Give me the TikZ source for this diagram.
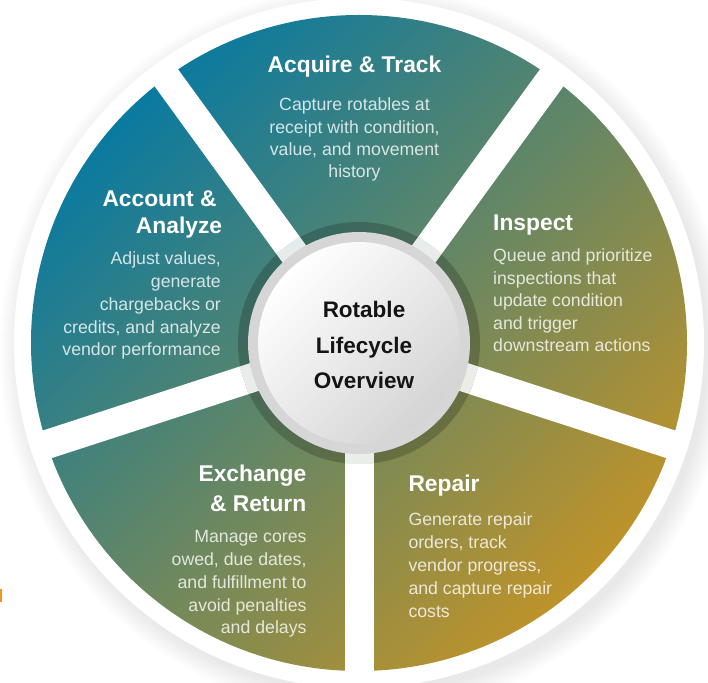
\documentclass[tikz,border=0pt]{standalone}
\usepackage{fontspec}
\setmainfont{Liberation Sans}
\usetikzlibrary{calc}
\definecolor{cteal}{RGB}{10,122,160}
\definecolor{cmid}{RGB}{82,133,112}
\definecolor{cgold}{RGB}{190,147,42}
\definecolor{ringgray}{RGB}{214,214,214}
\definecolor{orangemark}{RGB}{247,148,30}
\newcommand\mylines[6]{%
  \foreach \ln [count=\i from 0] in {#6}
    \node[body, anchor=#2] (#1\i) at (#3, {#4-#5*\i}) {\ln};
}
\begin{document}
\begin{tikzpicture}[x=1pt,y=1pt,
  gapline/.style={line width=29pt, white},
  title/.style={text=white, font=\bfseries\fontsize{22.8}{26}\selectfont, inner sep=0pt},
  body/.style={text=white, text opacity=0.8, font=\fontsize{17.7}{21}\selectfont, inner sep=0pt},
  centertxt/.style={text=black!92, font=\bfseries\fontsize{22.5}{26}\selectfont, inner sep=0pt}]
\useasboundingbox (0,0) rectangle (708,682);
\coordinate (c) at (359,339);
% outer shadow and white ring
\foreach \k in {1,...,22} \fill[black, opacity=0.003] ([shift={(5,-7)}]c) circle ({343+\k});
\fill[white] (c) circle (345);
% coloured wheel
\shade[top color=cteal, middle color=cmid, bottom color=cgold, shading angle=45] (c) circle (328);
% shadow of the centre disc
\fill[black, opacity=0.2] (c) circle (121);
% gaps between sectors
\foreach \a in {54,126,198,270,342} {
  \draw[gapline, opacity=0.88] (c) -- ++(\a:121);
  \draw[gapline] ($(c)+(\a:121)$) -- ++(\a:219);
}
% centre disc
\fill[ringgray] (c) circle (111);
\shade[top color=white, bottom color=black!17, shading angle=45] (c) circle (101);
\node[centertxt, anchor=base] (ct1) at (364,364.7) {Rotable};
\node[centertxt, anchor=base] (ct2) at (364,328.2) {Lifecycle};
\node[centertxt, anchor=base] (ct3) at (364,293.5) {Overview};
% Acquire & Track
\node[title, anchor=base] (tacq) at (354.5,609.5) {Acquire \& Track};
\mylines{acq}{base}{354.5}{571}{22.1}{Capture rotables at, {receipt with condition,}, {value, and movement}, history}
% Inspect
\node[title, anchor=base west] (tins) at (493,451.5) {Inspect};
\mylines{ins}{base west}{493}{420.3}{22.5}{Queue and prioritize, inspections that, update condition, and trigger, downstream actions}
% Account & Analyze
\node[title, anchor=base east] (tacc1) at (216.7,475.3) {Account \&};
\node[title, anchor=base east] (tacc2) at (222.3,448.7) {Analyze};
\mylines{acc}{base east}{221}{417}{22.75}{{Adjust values,}, generate, chargebacks or, {credits, and analyze}, vendor performance}
% Exchange & Return
\node[title, anchor=base east] (texc1) at (306.5,200.3) {Exchange};
\node[title, anchor=base east] (texc2) at (306.5,170.3) {\& Return};
\mylines{exc}{base east}{306.7}{139.7}{22.9}{Manage cores, {owed, due dates,}, and fulfillment to, avoid penalties, and delays}
% Repair
\node[title, anchor=base west] (trep) at (408.3,190.3) {Repair};
\mylines{rep}{base west}{408.3}{156}{22.9}{Generate repair, {orders, track}, {vendor progress,}, and capture repair, costs}
% clipped mark at the left edge
\fill[orangemark] (0,80) rectangle (1.5,93);
\end{tikzpicture}
\end{document}
